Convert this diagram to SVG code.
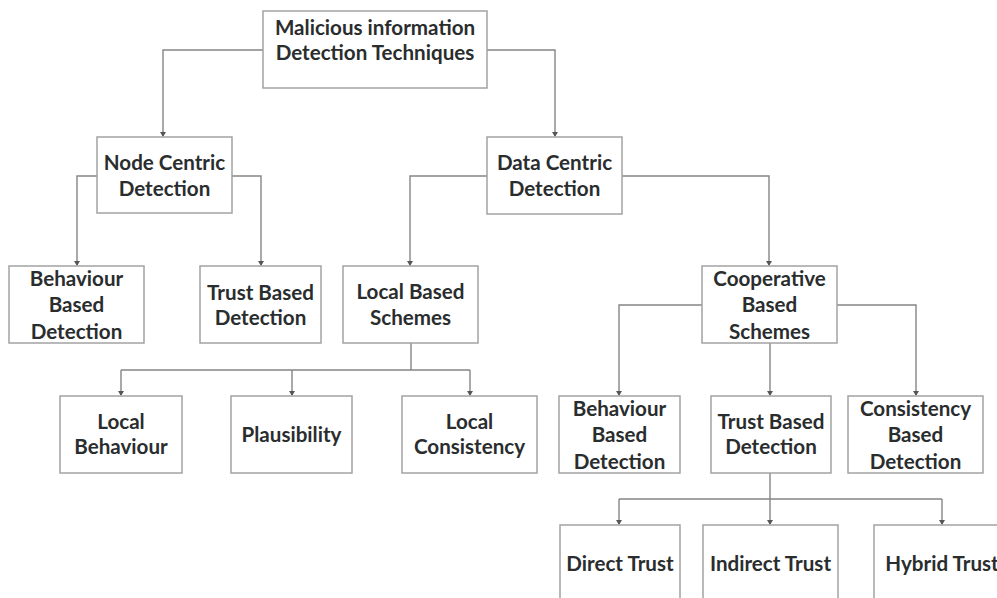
<svg xmlns="http://www.w3.org/2000/svg" width="997" height="598" viewBox="0 0 997 598">
<style>
.box{fill:#ffffff;stroke:#a3a3a3;stroke-width:1.5}
.lbl{font-family:Lato,"Open Sans","Liberation Sans",sans-serif;font-weight:bold;font-size:20.6px;fill:#2a2d2e;text-anchor:middle}
.con{fill:none;stroke:#858585;stroke-width:1.4}
.ah{fill:#555555}
</style>
<rect width="997" height="598" fill="#ffffff"/>
<g id="connectors">
<path class="con" d="M263,50 H163 V136"/>
<path class="con" d="M487,50 H555 V136"/>
<path class="con" d="M97,176 H77 V265"/>
<path class="con" d="M232,176 H261 V265"/>
<path class="con" d="M487,176 H410 V265"/>
<path class="con" d="M622,176 H769 V265"/>
<path class="con" d="M411,343 V370"/>
<path class="con" d="M121,370 H470"/>
<path class="con" d="M121,370 V395"/>
<path class="con" d="M292,370 V395"/>
<path class="con" d="M470,370 V395"/>
<path class="con" d="M702,305 H619 V395"/>
<path class="con" d="M837,305 H916 V395"/>
<path class="con" d="M770,343 V395"/>
<path class="con" d="M770,473 V499"/>
<path class="con" d="M619,499 H942"/>
<path class="con" d="M619,499 V524"/>
<path class="con" d="M770,499 V524"/>
<path class="con" d="M942,499 V524"/>
<path class="ah" d="M160,132 L166,132 L163,137 Z"/>
<path class="ah" d="M552,132 L558,132 L555,137 Z"/>
<path class="ah" d="M74,261 L80,261 L77,266 Z"/>
<path class="ah" d="M258,261 L264,261 L261,266 Z"/>
<path class="ah" d="M407,261 L413,261 L410,266 Z"/>
<path class="ah" d="M766,261 L772,261 L769,266 Z"/>
<path class="ah" d="M118,391 L124,391 L121,396 Z"/>
<path class="ah" d="M289,391 L295,391 L292,396 Z"/>
<path class="ah" d="M467,391 L473,391 L470,396 Z"/>
<path class="ah" d="M616,391 L622,391 L619,396 Z"/>
<path class="ah" d="M767,391 L773,391 L770,396 Z"/>
<path class="ah" d="M913,391 L919,391 L916,396 Z"/>
<path class="ah" d="M616,520 L622,520 L619,525 Z"/>
<path class="ah" d="M767,520 L773,520 L770,525 Z"/>
<path class="ah" d="M939,520 L945,520 L942,525 Z"/>
</g>
<g id="root">
<rect class="box" x="263" y="11" width="224" height="77"/>
<text class="lbl" x="375" y="35">Malicious information</text>
<text class="lbl" x="375" y="60">Detection Techniques</text>
</g>
<g id="node-centric">
<rect class="box" x="97" y="137" width="135" height="76"/>
<text class="lbl" x="164.5" y="170">Node Centric</text>
<text class="lbl" x="164.5" y="196">Detection</text>
</g>
<g id="data-centric">
<rect class="box" x="487" y="137" width="135" height="77"/>
<text class="lbl" x="554.5" y="170">Data Centric</text>
<text class="lbl" x="554.5" y="196">Detection</text>
</g>
<g id="nc-behaviour">
<rect class="box" x="9" y="266" width="135" height="77"/>
<text class="lbl" x="76.5" y="286">Behaviour</text>
<text class="lbl" x="76.5" y="312">Based</text>
<text class="lbl" x="76.5" y="339">Detection</text>
</g>
<g id="nc-trust">
<rect class="box" x="200" y="266" width="121" height="77"/>
<text class="lbl" x="260.5" y="300">Trust Based</text>
<text class="lbl" x="260.5" y="325">Detection</text>
</g>
<g id="local-based">
<rect class="box" x="343" y="266" width="135" height="77"/>
<text class="lbl" x="410.5" y="299">Local Based</text>
<text class="lbl" x="410.5" y="325">Schemes</text>
</g>
<g id="cooperative">
<rect class="box" x="702" y="266" width="135" height="77"/>
<text class="lbl" x="769.5" y="286">Cooperative</text>
<text class="lbl" x="769.5" y="312">Based</text>
<text class="lbl" x="769.5" y="339">Schemes</text>
</g>
<g id="local-behaviour">
<rect class="box" x="60" y="396" width="122" height="77"/>
<text class="lbl" x="121" y="429">Local</text>
<text class="lbl" x="121" y="454">Behaviour</text>
</g>
<g id="plausibility">
<rect class="box" x="231" y="396" width="121" height="77"/>
<text class="lbl" x="291.5" y="442">Plausibility</text>
</g>
<g id="local-consistency">
<rect class="box" x="402" y="396" width="135" height="77"/>
<text class="lbl" x="469.5" y="429">Local</text>
<text class="lbl" x="469.5" y="454">Consistency</text>
</g>
<g id="co-behaviour">
<rect class="box" x="559" y="396" width="121" height="77"/>
<text class="lbl" x="619.5" y="416">Behaviour</text>
<text class="lbl" x="619.5" y="442">Based</text>
<text class="lbl" x="619.5" y="469">Detection</text>
</g>
<g id="co-trust">
<rect class="box" x="711" y="396" width="120" height="77"/>
<text class="lbl" x="771" y="429">Trust Based</text>
<text class="lbl" x="771" y="454">Detection</text>
</g>
<g id="co-consistency">
<rect class="box" x="848" y="396" width="135" height="77"/>
<text class="lbl" x="915.5" y="416">Consistency</text>
<text class="lbl" x="915.5" y="442">Based</text>
<text class="lbl" x="915.5" y="469">Detection</text>
</g>
<g id="direct-trust">
<rect class="box" x="560" y="525" width="120" height="80"/>
<text class="lbl" x="620" y="571">Direct Trust</text>
</g>
<g id="indirect-trust">
<rect class="box" x="703" y="525" width="135" height="80"/>
<text class="lbl" x="770.5" y="571">Indirect Trust</text>
</g>
<g id="hybrid-trust">
<rect class="box" x="874" y="525" width="140" height="80"/>
<text class="lbl" x="942" y="571">Hybrid Trust</text>
</g>
</svg>
